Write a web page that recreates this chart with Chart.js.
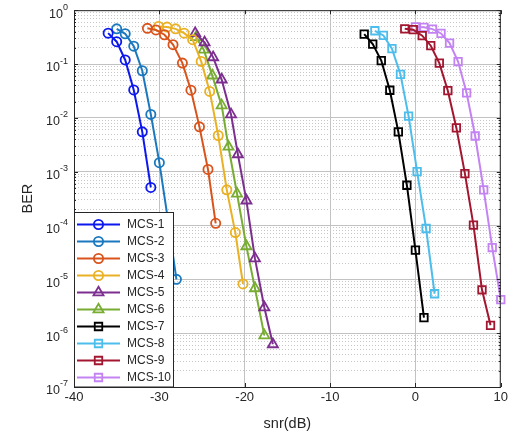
<!DOCTYPE html>
<html>
<head>
<meta charset="utf-8">
<script src="https://cdn.jsdelivr.net/npm/chart.js@4.4.1/dist/chart.umd.min.js"></script>
<style>
  html, body { margin: 0; padding: 0; background: #fff; }
  #wrap { width: 511px; height: 435px; }
</style>
</head>
<body>
<div id="wrap"><canvas id="berChart" width="511" height="435"></canvas></div>
<script>
// BER curves per MCS
const mcsNames = ['MCS-1', 'MCS-2', 'MCS-3', 'MCS-4', 'MCS-5', 'MCS-6', 'MCS-7', 'MCS-8', 'MCS-9', 'MCS-10']
const mcsColors = ['#0c18ee', '#1a78bf', '#d9541c', '#eab124', '#7c2f8f', '#78ac33', '#000000', '#4dbdec', '#a3162f', '#c483f2']
const mcsMarkers = ['circle', 'circle', 'circle', 'circle', 'triangle', 'triangle', 'rect', 'rect', 'rect', 'rect']

const snr1 = [-36, -35, -34, -33, -32, -31]
const ber1 = [0.375, 0.26, 0.119, 0.033, 0.0055, 5.1e-4]
const snr2 = [-35, -34, -33, -32, -31, -30, -29, -28]
const ber2 = [0.45, 0.365, 0.215, 0.075, 0.0116, 1.47e-3, 1.3e-4, 1.0e-5]
const snr3 = [-31.4, -30.4, -29.4, -28.4, -27.3, -26.3, -25.3, -24.3, -23.4]
const ber3 = [0.46, 0.43, 0.35, 0.229, 0.104, 0.0326, 0.0068, 1.1e-3, 1.1e-4]
const snr4 = [-30.1, -29.1, -28.1, -27.1, -26.1, -25.1, -24.1, -23.1, -22.1, -21.1, -20.2]
const ber4 = [0.5, 0.485, 0.45, 0.375, 0.283, 0.112, 0.031, 4.7e-3, 4.6e-4, 7.4e-5, 8.2e-6]
const snr5 = [-25.8, -24.7, -23.7, -22.7, -21.6, -20.8, -19.8, -18.8, -17.7, -16.7]
const ber5 = [0.375, 0.252, 0.133, 0.0514, 0.0116, 2.1e-3, 2.9e-4, 2.45e-5, 3.0e-6, 6.2e-7]
const snr6 = [-25.7, -24.8, -23.8, -22.7, -21.9, -20.9, -19.8, -18.8, -17.7]
const ber6 = [0.316, 0.185, 0.061, 0.017, 2.9e-3, 3.9e-4, 4.1e-5, 6.8e-6, 9.1e-7]
const snr7 = [-6, -5, -4, -3, -2, -1, 0, 1]
const ber7 = [0.36, 0.235, 0.116, 0.0326, 5.5e-3, 5.6e-4, 3.5e-5, 1.95e-6]
const snr8 = [-4.75, -3.75, -2.75, -1.75, -0.8, 0.2, 1.25, 2.25]
const ber8 = [0.415, 0.34, 0.193, 0.064, 0.0108, 1e-3, 8.8e-5, 5.4e-6]
const snr9 = [-1.25, -0.25, 0.8, 1.8, 2.8, 3.8, 4.8, 5.8, 6.8, 7.8, 8.8]
const ber9 = [0.45, 0.434, 0.336, 0.219, 0.104, 0.032, 6.5e-3, 9.2e-4, 1.02e-4, 6.4e-6, 1.4e-6]
const snr10 = [0, 1, 2, 3, 4, 5, 6, 7, 8, 9, 10]
const ber10 = [0.49, 0.48, 0.445, 0.37, 0.245, 0.111, 0.029, 4.6e-3, 4.6e-4, 3.9e-5, 4.2e-6]

const snrSets = [snr1, snr2, snr3, snr4, snr5, snr6, snr7, snr8, snr9, snr10]
const berSets = [ber1, ber2, ber3, ber4, ber5, ber6, ber7, ber8, ber9, ber10]

// axes
const xTicks = [-40, -30, -20, -10, 0, 10]
const yDecades = [-7, -6, -5, -4, -3, -2, -1, 0]
const yMinor = [2, 3, 4, 5, 6, 7, 8, 9]

const axisColor = '#262626'
const fontFamily = '"Liberation Sans", Arial, sans-serif'

let yTickValues = []
for (let d of yDecades) {
    yTickValues.push(Math.pow(10, d))
    if (d < 0) {
        for (let m of yMinor) yTickValues.push(m * Math.pow(10, d))
    }
}

const isDecade = v => Math.abs(Math.log10(v) - Math.round(Math.log10(v))) < 1e-6

const markerRadius = { circle: 4.6, triangle: 5.8, rect: 5.3 }

let datasets = mcsNames.map((name, i) => ({
    label: name,
    data: snrSets[i].map((x, k) => ({ x: x, y: berSets[i][k] })),
    borderColor: mcsColors[i],
    backgroundColor: mcsColors[i],
    borderWidth: 2,
    pointStyle: mcsMarkers[i],
    pointRadius: markerRadius[mcsMarkers[i]],
    pointBorderWidth: 1.8,
    pointBorderColor: mcsColors[i],
    pointBackgroundColor: 'rgba(0,0,0,0)',
    tension: 0,
    clip: false
}))

// box, inner ticks, superscript labels and legend
const matlabAxes = {
    id: 'matlabAxes',
    afterDraw(chart) {
        const ctx = chart.ctx
        const area = chart.chartArea
        const xs = chart.scales.x
        const ys = chart.scales.y

        ctx.save()
        ctx.strokeStyle = axisColor
        ctx.lineWidth = 1
        ctx.beginPath()
        ctx.moveTo(area.left, area.top + 0.5)
        ctx.lineTo(area.right, area.top + 0.5)
        ctx.moveTo(area.right - 0.5, area.top)
        ctx.lineTo(area.right - 0.5, area.bottom)
        ctx.stroke()

        // inward ticks
        ctx.beginPath()
        for (let t of xTicks) {
            let px = Math.round(xs.getPixelForValue(t)) + 0.5
            ctx.moveTo(px, area.bottom); ctx.lineTo(px, area.bottom - 4)
            ctx.moveTo(px, area.top); ctx.lineTo(px, area.top + 4)
        }
        for (let v of yTickValues) {
            let py = Math.round(ys.getPixelForValue(v)) + 0.5
            let len = isDecade(v) ? 4 : 2
            ctx.moveTo(area.left, py); ctx.lineTo(area.left + len, py)
            ctx.moveTo(area.right, py); ctx.lineTo(area.right - len, py)
        }
        ctx.stroke()

        // 10^n labels
        ctx.fillStyle = axisColor
        ctx.textBaseline = 'middle'
        for (let d of yDecades) {
            let py = ys.getPixelForValue(Math.pow(10, d))
            let sup = String(d)
            ctx.font = `9px ${fontFamily}`
            let supW = ctx.measureText(sup).width
            let rightX = area.left - 6
            ctx.textAlign = 'right'
            ctx.fillText(sup, rightX, py - 3)
            ctx.font = `12.5px ${fontFamily}`
            ctx.fillText('10', rightX - supW, py + 4)
        }

        // legend
        const lx = area.left, ly = 212, lw = 99, lh = area.bottom - 212
        ctx.fillStyle = '#ffffff'
        ctx.fillRect(lx, ly, lw, lh)
        ctx.strokeStyle = axisColor
        ctx.lineWidth = 1
        ctx.strokeRect(lx + 0.5, ly + 0.5, lw, lh - 0.5)

        ctx.font = `12px ${fontFamily}`
        ctx.textAlign = 'left'
        ctx.textBaseline = 'middle'
        mcsNames.forEach((name, i) => {
            let cy = 224.5 + 17 * i
            ctx.strokeStyle = mcsColors[i]
            ctx.lineWidth = 2
            ctx.beginPath()
            ctx.moveTo(lx + 3, cy)
            ctx.lineTo(lx + 46, cy)
            ctx.stroke()
            ctx.fillStyle = 'rgba(0,0,0,0)'
            ctx.lineWidth = 1.8
            Chart.helpers.drawPoint(ctx, {
                pointStyle: mcsMarkers[i],
                radius: markerRadius[mcsMarkers[i]],
                rotation: 0,
                borderWidth: 1.8
            }, lx + 24.5, cy)
            ctx.fillStyle = axisColor
            ctx.fillText(name, lx + 53, cy + 0.5)
        })
        ctx.restore()
    }
}

const ctx = document.getElementById('berChart').getContext('2d')

new Chart(ctx, {
    type: 'line',
    data: { datasets: datasets },
    options: {
        responsive: false,
        animation: false,
        layout: { padding: { top: 9, right: 8, left: 0, bottom: 0 } },
        plugins: {
            legend: { display: false },
            tooltip: { enabled: false }
        },
        scales: {
            x: {
                type: 'linear',
                min: -40,
                max: 10,
                afterFit: s => { s.height = 48 },
                ticks: {
                    stepSize: 10,
                    color: axisColor,
                    padding: 3,
                    font: { family: fontFamily, size: 13 }
                },
                grid: { color: '#c2c2c2', lineWidth: 1, drawTicks: false },
                border: { color: axisColor, width: 1 },
                title: {
                    display: true,
                    text: 'snr(dB)',
                    color: axisColor,
                    padding: { top: 0, bottom: 2 },
                    font: { family: fontFamily, size: 14.5 }
                }
            },
            y: {
                type: 'logarithmic',
                min: 1e-7,
                max: 1,
                afterBuildTicks: s => { s.ticks = yTickValues.map(v => ({ value: v })) },
                afterFit: s => { s.width = 74 },
                ticks: { autoSkip: false, callback: () => '' },
                grid: {
                    color: c => (c.tick && isDecade(c.tick.value)) ? '#c2c2c2' : '#c8c8c8',
                    lineWidth: 1,
                    drawTicks: false
                },
                border: {
                    color: axisColor,
                    width: 1,
                    dash: c => (c.tick && !isDecade(c.tick.value)) ? [1, 2] : []
                },
                title: {
                    display: true,
                    text: 'BER',
                    color: axisColor,
                    padding: { top: 19, bottom: 0 },
                    font: { family: fontFamily, size: 14.5 }
                }
            }
        }
    },
    plugins: [matlabAxes]
})
</script>
</body>
</html>
